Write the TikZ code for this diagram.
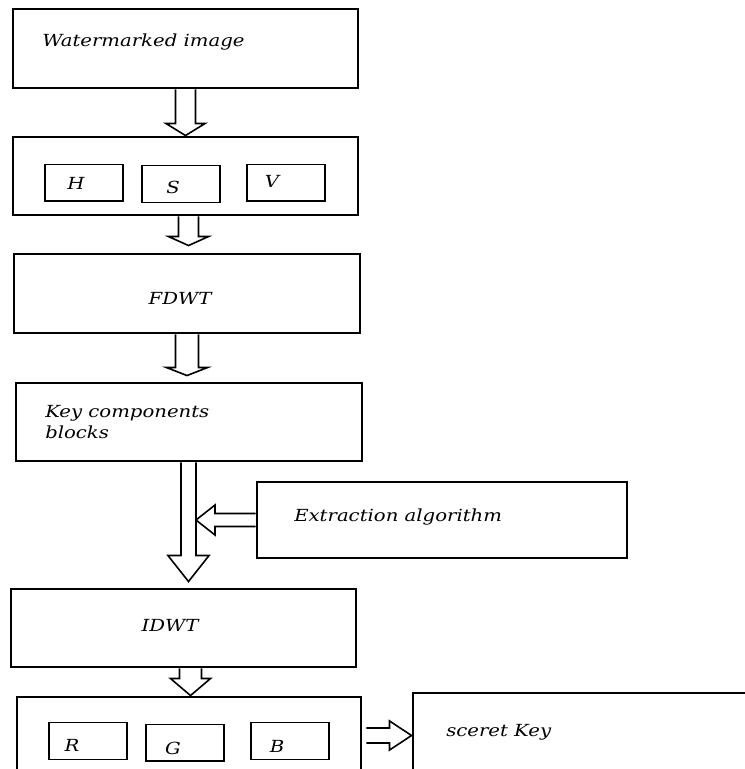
\documentclass[tikz,border=0pt]{standalone}
\usepackage{fontspec}
\setmainfont{DejaVu Serif}[FakeStretch=1.18]
\usetikzlibrary{calc}
\tikzset{
  shaftw/.store in=\shaftw,
  headw/.store in=\headw,
  headlen/.store in=\headlen,
}

\begin{document}
\begin{tikzpicture}[
        x=0.75pt, y=-0.75pt,
        font=\itshape\fontsize{12.5}{15}\selectfont,
        block/.style={draw, line width=2.2pt, minimum width=258.75pt, minimum height=58.5pt, inner sep=0pt},
        chan/.style={draw, line width=1pt, minimum width=58.5pt, minimum height=27.5pt, inner sep=0pt},
        txt/.style={inner sep=0pt},
        hollow/.style={draw, line width=1.2pt, line join=miter,
            shaftw=7.5pt, headw=15pt, headlen=9pt,
            to path={
                ($(\tikztostart)!\shaftw!90:(\tikztotarget)$)
                -- ($($(\tikztotarget)!\headlen!(\tikztostart)$)!\shaftw!90:(\tikztotarget)$)
                -- ($($(\tikztotarget)!\headlen!(\tikztostart)$)!\headw!90:(\tikztotarget)$)
                -- (\tikztotarget)
                -- ($($(\tikztotarget)!\headlen!(\tikztostart)$)!\headw!-90:(\tikztotarget)$)
                -- ($($(\tikztotarget)!\headlen!(\tikztostart)$)!\shaftw!-90:(\tikztotarget)$)
                -- ($(\tikztostart)!\shaftw!-90:(\tikztotarget)$)
            }},
    ]

    \useasboundingbox (0,0) rectangle (745,769);
    \clip (0,0) rectangle (745,769);

    % main column
    \node[block, minimum height=59.25pt] (img) at (185.5,48.5) {};
    \node[block] (hsv) at (185.5,176) {};
    \node[block, minimum width=259.5pt, minimum height=59.25pt] (fdwt) at (187,293.5) {};
    \node[block, minimum width=259.5pt] (keyblk) at (189,422) {};
    \node[block, minimum width=277.5pt, minimum height=57pt] (extr) at (442,520) {};
    \node[block] (idwt) at (183.5,628) {};
    \node[block, minimum width=258pt, minimum height=75pt] (rgb) at (189,747) {};
    \node[block, minimum width=282.75pt, minimum height=80.25pt] (key) at (601.5,746.5) {};

    % channels
    \node[chan] (hbox) at (84,182.5) {};
    \node[chan] (sbox) at (181,184) {};
    \node[chan] (vbox) at (286,182.5) {};
    \node[chan] (rbox) at (88,741) {};
    \node[chan] (gbox) at (185,742.5) {};
    \node[chan] (bbox) at (290,741) {};

    % texts
    \node[txt, anchor=west] (imgtext) at (42,42) {Watermarked image};
    \node[txt] (htext) at (76,183) {H};
    \node[txt] (stext) at (173,187) {S};
    \node[txt] (vtext) at (272,181) {V};
    \node[txt] (fdwttext) at (180,298) {FDWT};
    \node[txt, anchor=west, align=left, font=\itshape\fontsize{12.5}{15.75}\selectfont] (keytext) at (45,422.5) {Key components\\blocks};
    \node[txt, anchor=west] (extrtext) at (294,517) {Extraction algorithm};
    \node[txt] (idwttext) at (170,625) {IDWT};
    \node[txt] (rtext) at (72,745) {R};
    \node[txt] (gtext) at (173,748) {G};
    \node[txt] (btext) at (277,746) {B};
    \node[txt, anchor=west] (keyname) at (446,732) {sceret Key};

    \coordinate (join) at (196,520);

    % arrows
    \draw[hollow, shaftw=7.5pt, headw=14.6pt, headlen=9pt] (img.south) to (hsv.north);
    \draw[hollow, shaftw=7.5pt, headw=15pt, headlen=6.75pt] ($(hsv.south)+(3,0)$) to ($(fdwt.north)+(1.5,-7)$);
    \draw[hollow, shaftw=8.6pt, headw=15.4pt, headlen=6pt] (fdwt.south) to ($(keyblk.north)+(-2,-6)$);
    \draw[hollow, shaftw=5.6pt, headw=15.4pt, headlen=19.5pt] ($(keyblk.south)+(-0.5,0)$) to ($(idwt.north)+(5,-6)$);
    \draw[hollow, shaftw=4.9pt, headw=11.25pt, headlen=14.25pt] (extr.west) to (join);
    \draw[hollow, shaftw=8.25pt, headw=15pt, headlen=12.75pt] ($(idwt.south)+(7,0)$) to ($(rgb.north)+(1.5,0)$);
    \draw[hollow, shaftw=5.6pt, headw=10.9pt, headlen=16.5pt] ($(rgb.east)+(4,-11.5)$) to ($(key.west)+(0,-11)$);

\end{tikzpicture}
\end{document}
